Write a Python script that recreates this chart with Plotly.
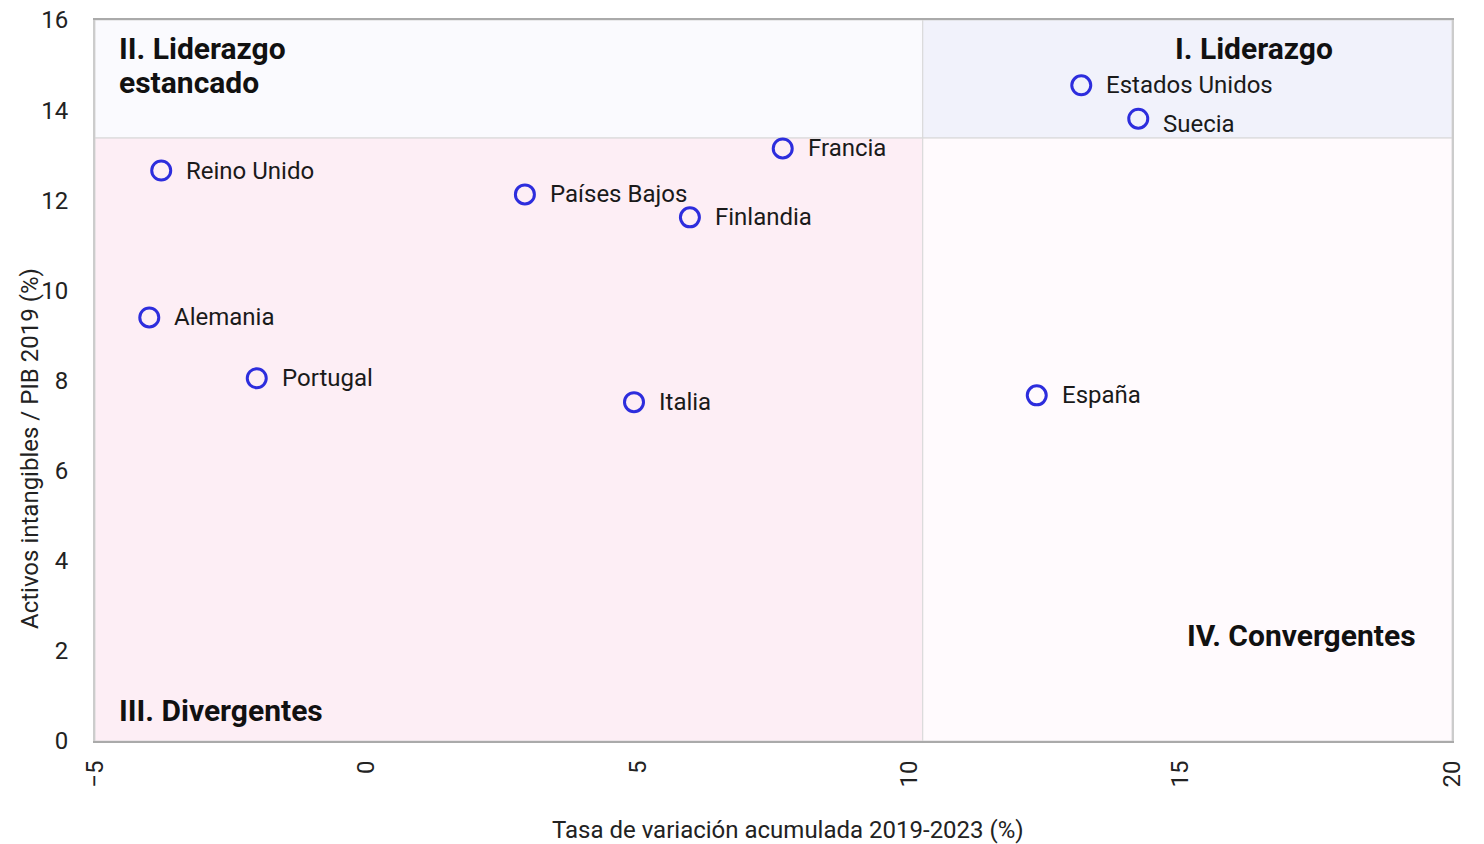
import plotly.graph_objects as go

countries = ["Reino Unido", "Países Bajos", "Francia", "Finlandia", "Alemania",
             "Portugal", "Italia", "España", "Estados Unidos", "Suecia"]
growth = [-3.78, 2.92, 7.67, 5.96, -4.0, -2.02, 4.93, 12.35, 13.17, 14.22]
intangibles = [12.66, 12.13, 13.15, 11.62, 9.40, 8.05, 7.52, 7.67, 14.55, 13.81]
label_yshift = [0, 0, 0, 0, 0, 0, 0, 0, 0, -5]

x_split = 10.25
y_split = 13.38
x_range = [-5, 20]
y_range = [0, 16]
x_ticks = [-5, 0, 5, 10, 15, 20]
y_ticks = [0, 2, 4, 6, 8, 10, 12, 14, 16]
x_title = "Tasa de variación acumulada 2019-2023 (%)"
y_title = "Activos intangibles / PIB 2019 (%)"

FONT = "Roboto"
fig = go.Figure()

fig.add_trace(go.Scatter(
    x=growth, y=intangibles, mode="markers",
    marker=dict(size=19, color="rgba(0,0,0,0)", line=dict(color="#2D2DDD", width=3)),
    hoverinfo="text", text=countries, showlegend=False,
))

quads = [
    (x_range[0], x_split, y_split, y_range[1], "#FAFAFE"),
    (x_split, x_range[1], y_split, y_range[1], "#F1F2FB"),
    (x_range[0], x_split, y_range[0], y_split, "#FDEEF5"),
    (x_split, x_range[1], y_range[0], y_split, "#FFFAFD"),
]
for x0, x1, y0, y1, c in quads:
    fig.add_shape(type="rect", x0=x0, x1=x1, y0=y0, y1=y1, fillcolor=c,
                  line=dict(color="#D8D8D8", width=1), layer="below")

for c, gx, iy, ys in zip(countries, growth, intangibles, label_yshift):
    fig.add_annotation(x=gx, y=iy, text=c, showarrow=False, xanchor="left",
                       xshift=23, yshift=ys, font=dict(family=FONT, size=24, color="#1a1a1a"))

qfont = dict(family=FONT, size=30, color="#111111")
quad_labels = [
    ("II. Liderazgo", 0.016, 0.961, "left"),
    ("estancado", 0.016, 0.913, "left"),
    ("I. Liderazgo", 0.9135, 0.961, "right"),
    ("IV. Convergentes", 0.975, 0.146, "right"),
    ("III. Divergentes", 0.016, 0.042, "left"),
]
for t, px, py, anc in quad_labels:
    fig.add_annotation(x=px, y=py, xref="paper", yref="paper", text="<b>" + t + "</b>",
                       showarrow=False, xanchor=anc, yanchor="middle", align=anc, font=qfont)

tfont = dict(family=FONT, size=24, color="#222222")
fig.add_annotation(x=0.5107, y=-0.1234, xref="paper", yref="paper", text=x_title,
                   showarrow=False, xanchor="center", yanchor="middle", font=tfont)
fig.add_annotation(x=-0.0479, y=0.4064, xref="paper", yref="paper", text=y_title,
                   textangle=-90, showarrow=False, xanchor="center", yanchor="middle", font=tfont)

fig.update_layout(
    width=1484, height=844,
    margin=dict(l=95, r=32, t=20, b=103),
    paper_bgcolor="white", plot_bgcolor="white",
    font=dict(family=FONT, size=24, color="#222222"),
    xaxis=dict(range=x_range, tickvals=x_ticks, tickangle=-90, showgrid=False, zeroline=False,
               automargin=False, ticklabeloverflow="allow",
               showline=True, linecolor="#AAAAAA", linewidth=2, mirror=True,
               ticks="outside", ticklen=8, tickcolor="rgba(0,0,0,0)",
               tickfont=tfont),
    yaxis=dict(range=y_range, tickvals=y_ticks, showgrid=False, zeroline=False,
               automargin=False, ticklabeloverflow="allow",
               showline=True, linecolor="#CCCCCC", linewidth=2, mirror=True,
               ticks="outside", ticklen=20, tickcolor="rgba(0,0,0,0)",
               tickfont=tfont),
)

fig.write_html("out.html", config={"displayModeBar": False},
               post_script="document.body.style.margin='0';")
